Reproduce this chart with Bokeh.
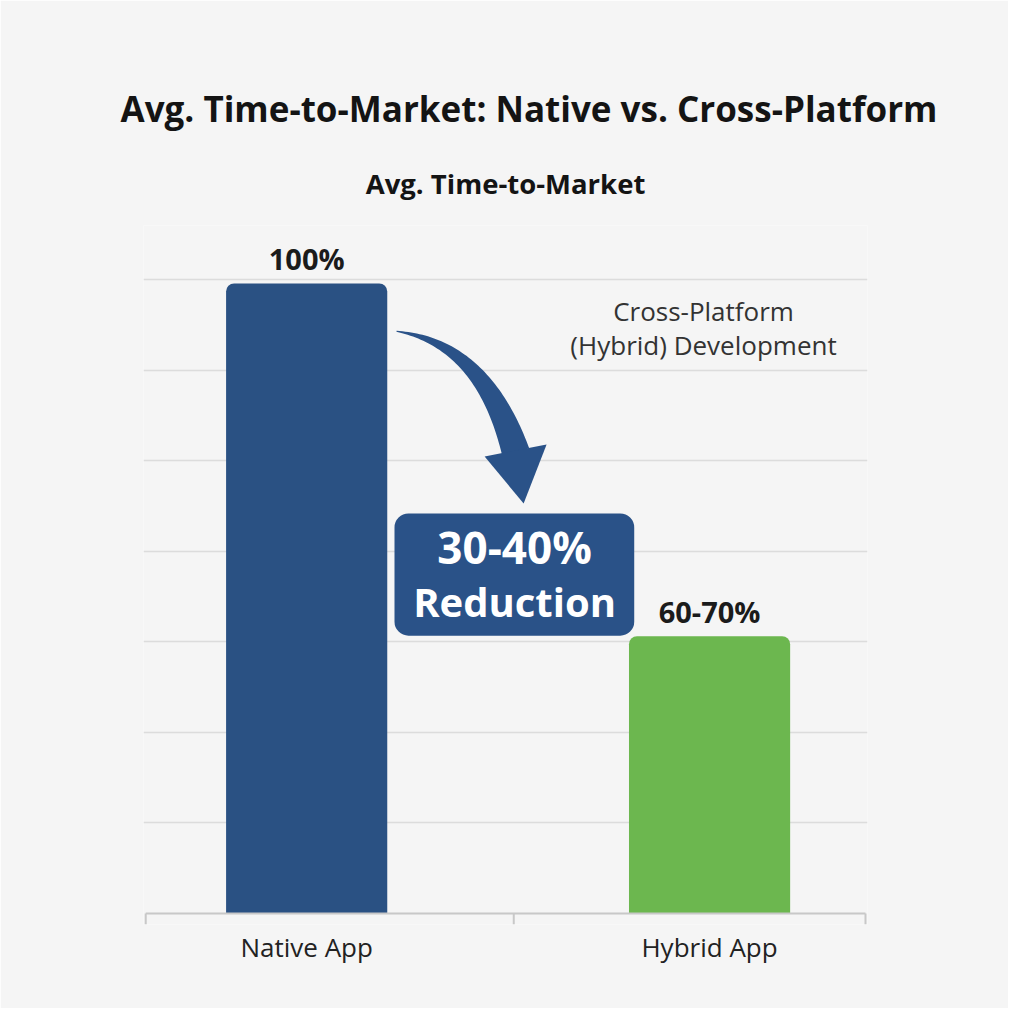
import numpy as np
from bokeh.plotting import figure
from bokeh.models import Range1d, FixedTicker, ColumnDataSource, Title
from bokeh.core.properties import value
from bokeh.embed import file_html
from bokeh.resources import INLINE

# ---------------- data ----------------
TITLE = "Avg. Time-to-Market: Native vs. Cross-Platform"
SUBTITLE = "Avg. Time-to-Market"
categories = ["Native App", "Hybrid App"]
bar_values = [100, 44]
value_labels = ["100%", "60-70%"]
callout_lines = ["30-40%", "Reduction"]
note_lines = ["Cross-Platform", "(Hybrid) Development"]
grid_values = [14.37, 28.74, 43.11, 57.48, 71.85, 86.22, 100.6]

# ---------------- layout / style ----------------
W, H = 1008, 1008
BORDER_L, BORDER_R, BORDER_T, BORDER_B = 143, 141, 225, 84
X_RANGE = (0.595, 2.392)
Y_RANGE = (-1.75, 109.2)
BAR_X = [1, 2]
BAR_WIDTH = 0.4
AXIS_BOUNDS = [0.6005, 1.514, 2.387]
BAR_COLORS = ["#2a5183", "#6cb74f"]
BLUE = "#2a5288"
BG = "#f5f5f5"
FONT = value("Open Sans")
BASELINE_SHIFT = 0.42     # empirical em fraction: rendered baseline sits this far below anchor
LABEL_GAP = 13            # px between bar top and value label baseline
LABEL_FS = 29

px_x = (W - BORDER_L - BORDER_R) / (X_RANGE[1] - X_RANGE[0])
px_y = (H - BORDER_T - BORDER_B) / (Y_RANGE[1] - Y_RANGE[0])


def lift(fs, gap=0):
    """data-unit lift so that a text baseline lands `gap` px above its anchor"""
    return (gap + BASELINE_SHIFT * fs) / px_y


p = figure(width=W, height=H, x_range=Range1d(*X_RANGE), y_range=Range1d(*Y_RANGE),
           output_backend="svg", toolbar_location=None, y_axis_location=None,
           min_border_left=BORDER_L, min_border_right=BORDER_R,
           min_border_top=BORDER_T, min_border_bottom=BORDER_B, title=TITLE)
p.background_fill_color = BG
p.border_fill_color = BG
p.outline_line_color = None

p.title.align = "left"
p.title.offset = -23
p.title.text_font = "Open Sans"
p.title.text_font_style = "bold"
p.title.text_font_size = "35px"
p.title.text_color = "#141414"
p.title.standoff = 13

sub = Title(text=SUBTITLE, align="center", text_font="Open Sans", text_font_style="bold",
            text_font_size="27.5px", text_color="#141414", standoff=48)
p.add_layout(sub, "above")

# grid
p.xgrid.grid_line_color = None
p.ygrid.ticker = FixedTicker(ticks=grid_values)
p.ygrid.grid_line_color = "#dcdcdc"
p.ygrid.grid_line_width = 1.5

# bars
src = ColumnDataSource(dict(x=BAR_X, top=bar_values, color=BAR_COLORS,
                            label=value_labels, cat=categories,
                            label_y=[v + lift(LABEL_FS, LABEL_GAP) for v in bar_values]))
p.vbar(x="x", top="top", bottom=0, width=BAR_WIDTH, fill_color="color",
       line_color=None, source=src, border_radius=(8, 8, 0, 0))
p.text(x="x", y="label_y", text="label", source=src,
       text_align="center", text_baseline="alphabetic", text_font=FONT,
       text_font_style="bold", text_font_size=f"{LABEL_FS}px", text_color="#1b1b1b")

# axis line and boundary ticks
p.segment(x0=[AXIS_BOUNDS[0]], y0=[0], x1=[AXIS_BOUNDS[-1]], y1=[0],
          line_color="#c8c8c8", line_width=2)
p.segment(x0=AXIS_BOUNDS, y0=[0] * 3, x1=AXIS_BOUNDS, y1=[Y_RANGE[0]] * 3,
          line_color="#c8c8c8", line_width=2)

xa = p.xaxis[0]
xa.ticker = FixedTicker(ticks=BAR_X)
xa.major_label_overrides = {x: c for x, c in zip(BAR_X, categories)}
xa.axis_line_color = None
xa.major_tick_line_color = None
xa.minor_tick_line_color = None
xa.major_tick_out = 0
xa.major_tick_in = 0
xa.major_label_standoff = 4
xa.major_label_text_font = "Open Sans"
xa.major_label_text_font_size = "26px"
xa.major_label_text_color = "#222222"

# curved arrow
P0 = np.array([1.223, 92.4]); C = np.array([1.437, 90.5]); P1 = np.array([1.519, 73.2])
S = np.array([px_x, -px_y])
p0, c, p1 = P0 * S, C * S, P1 * S
t = np.linspace(0, 1, 60)[:, None]
pts = (1 - t) ** 2 * p0 + 2 * (1 - t) * t * c + t ** 2 * p1
d = 2 * (1 - t) * (c - p0) + 2 * t * (p1 - c)
n = np.hstack([-d[:, 1:2], d[:, 0:1]]) / np.linalg.norm(d, axis=1)[:, None]
hw = (1 + 27 * t) / 2
poly = np.vstack([pts + n * hw, (pts - n * hw)[::-1]]) / S
p.patch(x=poly[:, 0], y=poly[:, 1], fill_color=BLUE, line_color=None)
p.patch(x=[1.4417, 1.5955, 1.5385], y=[72.54, 74.44, 65.08], fill_color=BLUE, line_color=None)

# callout box
p.quad(left=[1.218], right=[1.813], top=[63.5], bottom=[44.1], fill_color=BLUE,
       line_color=None, border_radius=14)
p.text(x=[1.516], y=[(913 - 565) / px_y + lift(44)], text=callout_lines[:1], text_align="center",
       text_baseline="alphabetic", text_font=FONT, text_font_style="bold",
       text_font_size="44px", text_color="white")
p.text(x=[1.516], y=[(913 - 618) / px_y + lift(40)], text=callout_lines[1:], text_align="center",
       text_baseline="alphabetic", text_font=FONT, text_font_style="bold",
       text_font_size="40px", text_color="white")

# note
p.text(x=[1.985, 1.985], y=[(913 - 321) / px_y + lift(26), (913 - 355) / px_y + lift(26)],
       text=note_lines, text_align="center",
       text_baseline="alphabetic", text_font=FONT, text_font_size="26px",
       text_color="#333333")

open("out.html", "w").write(file_html(p, INLINE))
